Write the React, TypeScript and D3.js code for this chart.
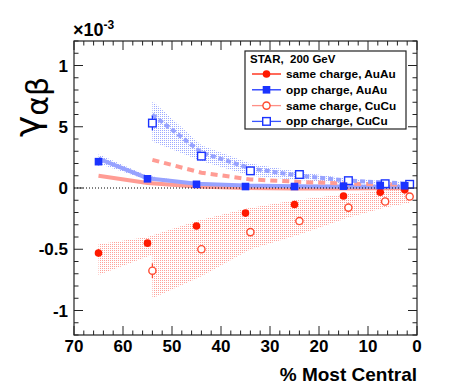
import * as d3 from 'd3';

// centrality bins (% most central)
const auCent = [65, 55, 45, 35, 25, 15, 7.5, 2.5];
const cuCent = [54, 44, 34, 24, 14, 6.5, 1.5];

// measured correlator (x 10^-3)
const sameAuAu = [-0.53, -0.45, -0.31, -0.205, -0.135, -0.065, -0.035, -0.015];
const sameAuAuErr = [0.03, 0.015, 0.01, 0.008, 0.006, 0.005, 0.005, 0.005];
const oppAuAu = [0.215, 0.075, 0.03, 0.012, 0.012, 0.015, 0.02, 0.018];
const oppAuAuErr = [0.03, 0.015, 0.01, 0.008, 0.006, 0.005, 0.005, 0.005];
const sameCuCu = [-0.675, -0.5, -0.36, -0.27, -0.16, -0.11, -0.07];
const sameCuCuErr = [0.06, 0.03, 0.02, 0.015, 0.01, 0.01, 0.01];
const oppCuCu = [0.53, 0.26, 0.14, 0.11, 0.06, 0.035, 0.03];
const oppCuCuErr = [0.06, 0.03, 0.02, 0.015, 0.01, 0.01, 0.01];

// model curves
const modelOppAuAu = [0.24, 0.08, 0.035, 0.02, 0.015, 0.012, 0.01, 0.01];
const modelSameAuAu = [0.1, 0.04, 0.012, 0.0, -0.005, -0.005, -0.003, 0.0];
const modelSameCuCu = [0.23, 0.125, 0.07, 0.05, 0.035, 0.03, 0.028];
const modelOppCuCu = [0.6, 0.29, 0.16, 0.1, 0.06, 0.045, 0.035];

// systematic bands
const bandOppAuAuHi = [0.275, 0.1, 0.04, 0.025, 0.02, 0.017, 0.015, 0.014];
const bandOppAuAuLo = [0.2, 0.065, 0.025, 0.012, 0.008, 0.006, 0.005, 0.005];
const bandOppCuCuHi = [0.71, 0.35, 0.2, 0.13, 0.075, 0.055, 0.045];
const bandOppCuCuLo = [0.38, 0.22, 0.1, 0.065, 0.035, 0.025, 0.02];
const bandSameAuAuHi = [-0.46, -0.4, -0.27, -0.17, -0.1, -0.05, -0.025, -0.005];
const bandSameAuAuLo = [-0.71, -0.56, -0.42, -0.29, -0.2, -0.12, -0.075, -0.045];
const bandSameCuCuHi = [-0.52, -0.38, -0.25, -0.17, -0.1, -0.05, -0.02];
const bandSameCuCuLo = [-0.9, -0.72, -0.5, -0.38, -0.24, -0.16, -0.12];

const xTicks = [70, 60, 50, 40, 30, 20, 10, 0];
const yTicks = [1, 0.5, 0, -0.5, -1];
const yTickLabels = ['1', '5', '0', '-0.5', '-1'];

const legendItems = [
  { label: 'same charge, AuAu', line: '#ff1a00', marker: 'circle', fill: true, color: '#ff1a00' },
  { label: 'opp charge, AuAu', line: '#1a33ff', marker: 'square', fill: true, color: '#1a33ff' },
  { label: 'same charge, CuCu', line: '#ff8f86', marker: 'circle', fill: false, color: '#ff4a30' },
  { label: 'opp charge, CuCu', line: '#3a55ff', marker: 'square', fill: false, color: '#1a33ff' },
];

const RED = '#ff1a00';
const BLUE = '#1a33ff';
const LRED = '#ff9c94';
const LBLUE = '#97a2ff';
const font = '"Liberation Sans", Arial, sans-serif';

const W = 464;
const H = 392;
const left = 74, right = 417, top = 41, bottom = 335;

const x = d3.scaleLinear().domain([70, 0]).range([left, right]);
const y = d3.scaleLinear().domain([-1.2, 1.2]).range([bottom, top]);

const zip = (xs: number[], ys: number[]) => xs.map((c, i) => [c, ys[i]] as [number, number]);
const zip3 = (xs: number[], lo: number[], hi: number[]) =>
  xs.map((c, i) => ({ c, lo: lo[i], hi: hi[i] }));

const line = d3.line<[number, number]>().x((d) => x(d[0])).y((d) => y(d[1]));
const area = d3
  .area<{ c: number; lo: number; hi: number }>()
  .x((d) => x(d.c))
  .y0((d) => y(d.lo))
  .y1((d) => y(d.hi));

const Marker = ({ cx, cy, kind, fill, color }: any) => {
  if (kind === 'circle') {
    return fill ? (
      <circle cx={cx} cy={cy} r={3.8} fill={color} />
    ) : (
      <circle cx={cx} cy={cy} r={3.6} fill="white" stroke={color} strokeWidth={1.4} />
    );
  }
  return fill ? (
    <rect x={cx - 3.8} y={cy - 3.8} width={7.6} height={7.6} fill={color} />
  ) : (
    <rect x={cx - 3.8} y={cy - 3.8} width={7.6} height={7.6} fill="white" stroke={color} strokeWidth={1.4} />
  );
};

const Points = ({ cent, vals, errs, kind, fill, color }: any) => (
  <g>
    {cent.map((c: number, i: number) => (
      <g key={i}>
        <line x1={x(c)} x2={x(c)} y1={y(vals[i] - errs[i])} y2={y(vals[i] + errs[i])} stroke={color} strokeWidth={1.3} />
        <Marker cx={x(c)} cy={y(vals[i])} kind={kind} fill={fill} color={color} />
      </g>
    ))}
  </g>
);

export default function App() {
  const xMinor = d3.range(0, 71, 2);
  const yMinor = d3.range(-12, 13).map((v) => v / 10);

  return (
    <svg width={W} height={H} style={{ position: 'absolute', left: 0, top: 0, background: 'white' }}>
      <defs>
        <pattern id="hatchRed" width={2} height={2} patternUnits="userSpaceOnUse">
          <rect x={0} y={0} width={1} height={1} fill="#ff8a80" />
        </pattern>
        <pattern id="hatchBlue" width={2} height={2} patternUnits="userSpaceOnUse">
          <rect x={0} y={0} width={1} height={1} fill="#8494ff" />
        </pattern>
      </defs>

      {/* systematic bands */}
      <path d={area(zip3(cuCent, bandSameCuCuLo, bandSameCuCuHi)) || ''} fill="url(#hatchRed)" opacity={0.8} />
      <path d={area(zip3(auCent, bandSameAuAuLo, bandSameAuAuHi)) || ''} fill="url(#hatchRed)" opacity={0.8} />
      <path d={area(zip3(cuCent, bandOppCuCuLo, bandOppCuCuHi)) || ''} fill="url(#hatchBlue)" opacity={0.8} />
      <path d={area(zip3(auCent, bandOppAuAuLo, bandOppAuAuHi)) || ''} fill="url(#hatchBlue)" opacity={0.8} />

      {/* model curves */}
      <path d={line(zip(auCent, modelSameAuAu)) || ''} fill="none" stroke={LRED} strokeWidth={4} />
      <path d={line(zip(auCent, modelOppAuAu)) || ''} fill="none" stroke={LBLUE} strokeWidth={4} />
      <path d={line(zip(cuCent, modelSameCuCu)) || ''} fill="none" stroke={LRED} strokeWidth={4} strokeDasharray="7,5" />
      <path d={line(zip(cuCent, modelOppCuCu)) || ''} fill="none" stroke={LBLUE} strokeWidth={4} strokeDasharray="5,3" />

      {/* zero line */}
      <line x1={left} x2={right} y1={y(0)} y2={y(0)} stroke="black" strokeWidth={1} strokeDasharray="1,2" />

      {/* data points */}
      <Points cent={cuCent} vals={sameCuCu} errs={sameCuCuErr} kind="circle" fill={false} color="#ff4a30" />
      <Points cent={cuCent} vals={oppCuCu} errs={oppCuCuErr} kind="square" fill={false} color={BLUE} />
      <Points cent={auCent} vals={sameAuAu} errs={sameAuAuErr} kind="circle" fill={true} color={RED} />
      <Points cent={auCent} vals={oppAuAu} errs={oppAuAuErr} kind="square" fill={true} color={BLUE} />

      {/* frame */}
      <rect x={left} y={top} width={right - left} height={bottom - top} fill="none" stroke="#222" strokeWidth={1.2} />

      {/* x ticks */}
      {xMinor.map((v) => {
        const len = v % 10 === 0 ? 9 : 4.5;
        return (
          <g key={'x' + v} stroke="#222" strokeWidth={1}>
            <line x1={x(v)} x2={x(v)} y1={bottom} y2={bottom - len} />
            <line x1={x(v)} x2={x(v)} y1={top} y2={top + len} />
          </g>
        );
      })}
      {xTicks.map((v) => (
        <text key={'xl' + v} x={x(v)} y={352} textAnchor="middle" fontFamily={font} fontWeight="bold" fontSize={17}>
          {v}
        </text>
      ))}

      {/* y ticks */}
      {yMinor.map((v) => {
        const major = Math.abs(Math.round(v * 10)) % 5 === 0;
        const len = major ? 9 : 4.5;
        return (
          <g key={'y' + v} stroke="#222" strokeWidth={1}>
            <line x1={left} x2={left + len} y1={y(v)} y2={y(v)} />
            <line x1={right} x2={right - len} y1={y(v)} y2={y(v)} />
          </g>
        );
      })}
      {yTicks.map((v, i) => (
        <text key={'yl' + v} x={68} y={y(v) + 6} textAnchor="end" fontFamily={font} fontWeight="bold" fontSize={17}>
          {yTickLabels[i]}
        </text>
      ))}

      {/* exponent */}
      <text x={left - 1} y={36} fontFamily={font} fontWeight="bold" fontSize={18}>
        ×10<tspan fontSize={12} dy={-7}>-3</tspan>
      </text>

      {/* axis titles */}
      <text x={right} y={381} textAnchor="end" fontFamily={font} fontWeight="bold" fontSize={19}>
        % Most Central
      </text>
      <text transform="translate(40,137) rotate(-90)" fontFamily='"DejaVu Sans", sans-serif' fontSize={36}>
        γ<tspan fontSize={30} dy={8}>αβ</tspan>
      </text>

      {/* legend */}
      <g>
        <rect x={245} y={51} width={161} height={78} fill="white" stroke="#222" strokeWidth={1.2} />
        <text x={250} y={63} fontFamily={font} fontWeight="bold" fontSize={11.5} style={{ whiteSpace: 'pre' }}>
          {'STAR,  200 GeV'}
        </text>
        {legendItems.map((d, i) => {
          const cy = 74 + i * 15.8;
          return (
            <g key={d.label}>
              <line x1={252} x2={281} y1={cy} y2={cy} stroke={d.line} strokeWidth={1.3} />
              <Marker cx={266.5} cy={cy} kind={d.marker} fill={d.fill} color={d.color} />
              <text x={286} y={cy + 4} fontFamily={font} fontWeight="bold" fontSize={11.8}>
                {d.label}
              </text>
            </g>
          );
        })}
      </g>
    </svg>
  );
}
